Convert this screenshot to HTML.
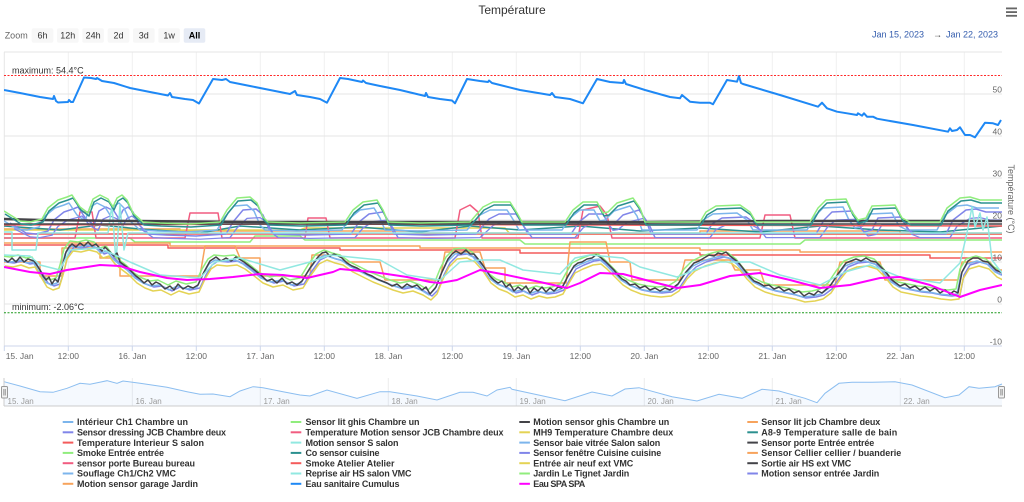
<!DOCTYPE html>
<html><head><meta charset="utf-8"><style>
html,body{margin:0;padding:0;background:#fff;}
svg{display:block;font-family:"Liberation Sans",Arial,sans-serif;}
</style></head><body>
<svg width="1024" height="502" viewBox="0 0 1024 502" xmlns="http://www.w3.org/2000/svg">
<defs>
<clipPath id="pc"><rect x="4" y="52" width="998" height="294"/></clipPath>
<path id="lb" fill="none" d="M4,259 L12,260 L20,258 L28,261 L34,260 L40,270 L46,280 L52,283 L58,281 L62,268 L66,252 L72,244 L80,245 L88,243 L96,245 L102,251 L108,249 L114,257 L120,262 L128,268 L136,276 L144,281 L152,284 L160,283 L170,288 L178,284 L188,287 L198,285 L204,272 L210,262 L216,258 L226,259 L236,258 L244,262 L252,268 L262,276 L272,280 L282,278 L292,283 L302,281 L310,268 L318,257 L326,253 L334,256 L342,258 L352,265 L362,270 L372,275 L382,279 L392,283 L402,286 L412,284 L422,288 L430,293 L436,287 L442,272 L448,260 L456,252 L466,251 L474,255 L482,264 L490,276 L498,282 L506,285 L514,290 L522,288 L530,292 L538,289 L546,291 L554,290 L562,287 L568,276 L574,266 L582,262 L592,258 L600,257 L606,262 L614,270 L622,278 L630,283 L640,287 L650,289 L660,290 L670,289 L678,284 L686,272 L694,264 L704,259 L714,256 L722,254 L730,256 L738,262 L746,272 L754,280 L764,285 L774,288 L784,290 L794,292 L804,295 L814,294 L822,292 L830,286 L838,274 L846,264 L856,260 L866,259 L876,262 L884,270 L892,280 L900,285 L910,287 L920,289 L930,290 L940,292 L950,293 L958,292 L962,272 L968,262 L978,259 L988,262 L996,270 L1002,273"/>
<path id="hb" fill="none" d="M4,211 L12,216 L20,221 L30,222 L42,219 L48,208 L58,200 L67,197 L72,195 L80,207 L88,213 L93,199 L100,195 L108,199 L113,207 L117,198 L122,195 L127,200 L133,213 L143,222 L160,223 L190,224 L220,222 L227,210 L237,198 L250,197 L257,203 L263,217 L268,222 L300,223 L345,222 L353,210 L363,202 L377,200 L383,210 L388,222 L420,223 L470,222 L483,207 L493,202 L510,202 L517,213 L522,222 L565,222 L573,210 L583,202 L597,202 L603,213 L608,212 L617,203 L633,198 L640,208 L645,222 L700,222 L706,212 L716,206 L740,205 L750,212 L756,222 L810,222 L818,208 L826,200 L846,199 L852,212 L858,220 L866,218 L872,206 L895,205 L902,218 L910,222 L940,222 L947,208 L960,198 L970,197 L980,200 L1002,200"/>
</defs>

<!-- Title -->
<text x="512" y="14" font-size="12" fill="#333" text-anchor="middle">Température</text>

<!-- Hamburger -->
<rect x="1006" y="7.5" width="11" height="1.8" fill="#666"/>
<rect x="1006" y="11.2" width="11" height="1.8" fill="#666"/>
<rect x="1006" y="14.9" width="11" height="1.8" fill="#666"/>

<!-- Range selector -->
<text x="4.7" y="38.3" font-size="9" fill="#666">Zoom</text>
<g font-size="9" text-anchor="middle">
<rect x="31.7" y="28.3" width="21.6" height="14.4" rx="2" fill="#f7f7f7"/><text x="42.5" y="38.5" fill="#333">6h</text>
<rect x="57" y="28.3" width="21.6" height="14.4" rx="2" fill="#f7f7f7"/><text x="67.8" y="38.5" fill="#333">12h</text>
<rect x="82.3" y="28.3" width="21.6" height="14.4" rx="2" fill="#f7f7f7"/><text x="93.1" y="38.5" fill="#333">24h</text>
<rect x="107.7" y="28.3" width="21.6" height="14.4" rx="2" fill="#f7f7f7"/><text x="118.5" y="38.5" fill="#333">2d</text>
<rect x="133" y="28.3" width="21.6" height="14.4" rx="2" fill="#f7f7f7"/><text x="143.8" y="38.5" fill="#333">3d</text>
<rect x="158.3" y="28.3" width="21.6" height="14.4" rx="2" fill="#f7f7f7"/><text x="169.1" y="38.5" fill="#333">1w</text>
<rect x="183.7" y="28.3" width="21.6" height="14.4" rx="2" fill="#e6ebf5"/><text x="194.5" y="38.5" fill="#000" font-weight="bold">All</text>
</g>
<text x="872" y="37.5" font-size="9" fill="#335cad">Jan 15, 2023</text>
<text x="933" y="37.5" font-size="9" fill="#444">→</text>
<text x="946" y="37.5" font-size="9" fill="#335cad">Jan 22, 2023</text>

<!-- Grid -->
<g stroke="#f0f0f0" stroke-width="1">
<line x1="68.3" y1="52" x2="68.3" y2="346"/><line x1="132.3" y1="52" x2="132.3" y2="346"/><line x1="196.3" y1="52" x2="196.3" y2="346"/><line x1="260.3" y1="52" x2="260.3" y2="346"/><line x1="324.3" y1="52" x2="324.3" y2="346"/><line x1="388.3" y1="52" x2="388.3" y2="346"/><line x1="452.3" y1="52" x2="452.3" y2="346"/><line x1="516.3" y1="52" x2="516.3" y2="346"/><line x1="580.3" y1="52" x2="580.3" y2="346"/><line x1="644.3" y1="52" x2="644.3" y2="346"/><line x1="708.3" y1="52" x2="708.3" y2="346"/><line x1="772.3" y1="52" x2="772.3" y2="346"/><line x1="836.3" y1="52" x2="836.3" y2="346"/><line x1="900.3" y1="52" x2="900.3" y2="346"/><line x1="964.3" y1="52" x2="964.3" y2="346"/>
</g>
<line x1="4.3" y1="52" x2="4.3" y2="346" stroke="#e6e6e6"/>
<g stroke="#e6e6e6" stroke-width="1">
<line x1="4" y1="52" x2="1002" y2="52"/><line x1="4" y1="94" x2="1002" y2="94"/><line x1="4" y1="136" x2="1002" y2="136"/><line x1="4" y1="178" x2="1002" y2="178"/><line x1="4" y1="220" x2="1002" y2="220"/><line x1="4" y1="262" x2="1002" y2="262"/><line x1="4" y1="304" x2="1002" y2="304"/>
</g>
<line x1="4" y1="346" x2="1002" y2="346" stroke="#ccd6eb"/>
<g stroke="#ccd6eb">
<line x1="4.3" y1="346" x2="4.3" y2="351"/><line x1="68.3" y1="346" x2="68.3" y2="351"/><line x1="132.3" y1="346" x2="132.3" y2="351"/><line x1="196.3" y1="346" x2="196.3" y2="351"/><line x1="260.3" y1="346" x2="260.3" y2="351"/><line x1="324.3" y1="346" x2="324.3" y2="351"/><line x1="388.3" y1="346" x2="388.3" y2="351"/><line x1="452.3" y1="346" x2="452.3" y2="351"/><line x1="516.3" y1="346" x2="516.3" y2="351"/><line x1="580.3" y1="346" x2="580.3" y2="351"/><line x1="644.3" y1="346" x2="644.3" y2="351"/><line x1="708.3" y1="346" x2="708.3" y2="351"/><line x1="772.3" y1="346" x2="772.3" y2="351"/><line x1="836.3" y1="346" x2="836.3" y2="351"/><line x1="900.3" y1="346" x2="900.3" y2="351"/><line x1="964.3" y1="346" x2="964.3" y2="351"/>
</g>

<!-- Series -->
<g clip-path="url(#pc)" fill="none" stroke-width="1.5" stroke-linejoin="round">
<!-- upper band -->
<path stroke="#f7a35c" d="M4,229 H180 V231 H420 V233 H700 V231 H900 V233 H1002"/>
<path stroke="#e4d354" d="M4,230 H300 L305,228 H505 L510,234 H1002"/>
<path stroke="#90ed7d" d="M4,238 H130 L135,242 H250 L255,236 H300 L305,240 H520 L525,244 H800 L805,240 H1002"/>
<path stroke="#2b908f" d="M4,226 L60,230 L100,225 L140,229 L200,233 L240,226 L300,230 L360,227 L420,232 L470,226 L520,230 L580,226 L640,231 L700,228 L760,232 L820,226 L880,230 L940,232 L1002,226"/>
<path stroke="#f45b5b" d="M4,245 H168 V248 H340 V250 H520 V253 H700 V255 H930 V258 H1002"/>
<path stroke="#f7a35c" d="M4,243 H170 V246 H420 V248 H700 V250 H800 V252 H1002"/>
<path stroke="#f45b5b" d="M4,234 H1002"/>
<path stroke="#f15c80" d="M4,238 H75 L80,212 H92 L96,238 H185 L190,213 H218 L222,238 H305 L308,218 H326 L330,238 H455 L460,210 L470,205 L478,212 L482,238 H578 L583,210 L600,206 L607,215 L612,238 H760 L765,215 H790 L795,238 H1002"/>
<use href="#hb" stroke="#8085e9" transform="translate(6,12)"/>
<use href="#hb" stroke="#7cb5ec" transform="translate(-3,8)"/>
<use href="#hb" stroke="#8085e9" transform="translate(10,60) scale(1,0.8)"/>
<path stroke="#91e8e1" d="M4,232 H12 V250 H36 L38,233 H108 L112,205 L116,262 L120,205 L124,250 L128,233 H1002"/>
<path stroke="#f45b5b" d="M4,225 L300,224 L600,225 L1002,226"/>
<path stroke="#434348" stroke-width="2.5" d="M4,219 L40,220 L132,221 L260,222 L400,222 L516,222 L644,222 L772,221 L900,221 L1002,221"/>
<path stroke="#434348" d="M4,224 H1002"/>
<use href="#hb" stroke="#2b908f" transform="translate(1,3)"/>
<use href="#hb" stroke="#90ed7d"/>
<!-- lower band -->
<path stroke="#f7a35c" d="M4,262 H40 V276 H62 V248 H100 V258 H120 V276 H200 L205,246 H235 L240,258 H260 V276 H310 L312,255 H340 L345,262 H380 L385,280 H440 L445,252 H480 L485,268 H505 V283 H566 L570,242 H606 L610,262 H630 L632,280 H680 L685,260 H730 L735,270 H760 L765,285 H835 L840,262 H880 L885,280 H958 L962,262 H990 L995,270 H1002"/>
<use href="#lb" stroke="#90ed7d" transform="translate(-2,-3)"/>
<use href="#lb" stroke="#8085e9" transform="translate(2,3)"/>
<use href="#lb" stroke="#7cb5ec" transform="translate(-1,2)"/>
<use href="#lb" stroke="#e4d354" transform="translate(1,7)"/>
<path stroke="#434348" d="M4,259 L8,262 L12,258 L16,262 L20,257 L24,262 L28,259 L34,261 L40,270 L43,276 L46,280 L49,277 L52,284 L55,279 L58,282 L62,268 L66,252 L69,247 L72,244 L76,247 L80,243 L84,246 L88,242 L92,246 L96,244 L102,251 L105,247 L108,250 L114,256 L117,253 L120,262 L128,268 L132,272 L136,276 L140,279 L144,283 L148,280 L152,285 L156,282 L160,284 L165,289 L170,286 L174,290 L178,284 L183,289 L188,286 L193,288 L198,285 L204,272 L210,261 L216,257 L221,261 L226,258 L231,261 L236,257 L244,262 L252,268 L257,272 L262,276 L267,281 L272,279 L277,283 L282,278 L287,284 L292,282 L297,285 L302,281 L310,268 L318,257 L322,253 L326,252 L330,256 L334,254 L342,258 L347,263 L352,266 L357,268 L362,271 L367,274 L372,276 L377,279 L382,281 L387,283 L392,286 L397,284 L402,288 L407,284 L412,287 L417,285 L422,290 L426,287 L430,294 L436,287 L442,272 L448,259 L452,254 L456,251 L461,254 L466,250 L470,254 L474,254 L482,264 L490,276 L494,280 L498,283 L502,281 L506,287 L510,284 L514,291 L518,287 L522,290 L526,286 L530,293 L534,288 L538,291 L542,287 L546,292 L550,288 L554,291 L558,287 L562,288 L568,276 L574,266 L578,263 L582,262 L587,259 L592,258 L596,255 L600,257 L606,262 L614,270 L618,275 L622,279 L626,281 L630,285 L635,284 L640,288 L645,286 L650,290 L655,288 L660,291 L665,288 L670,290 L678,284 L686,272 L694,263 L699,261 L704,258 L709,255 L714,256 L718,253 L722,254 L726,252 L730,256 L738,262 L746,272 L750,277 L754,281 L759,283 L764,286 L769,285 L774,289 L779,287 L784,291 L789,289 L794,293 L799,291 L804,296 L809,293 L814,295 L818,291 L822,293 L830,286 L838,274 L846,263 L851,261 L856,259 L861,261 L866,258 L871,261 L876,262 L884,270 L892,280 L896,283 L900,286 L905,284 L910,288 L915,286 L920,290 L925,287 L930,291 L935,288 L940,293 L945,290 L950,294 L954,291 L958,293 L962,272 L968,261 L973,258 L978,258 L983,261 L988,262 L996,270 L1002,273"/>
<path stroke="#91e8e1" d="M4,255 L30,256 L40,265 L60,270 L70,250 L100,248 L130,262 L160,275 L200,278 L215,262 L240,258 L280,270 L310,262 L330,255 L360,258 L380,260 L407,275 L440,280 L460,262 L480,260 L500,260 L523,270 L560,274 L575,258 L590,255 L623,258 L640,267 L677,277 L700,268 L720,262 L750,262 L780,275 L820,285 L845,272 L870,265 L900,277 L940,283 L960,263 L967,233 L972,207 L975,227 L980,213 L983,230 L987,217 L992,260 L1002,273"/>
<path stroke="#ff00ff" stroke-width="2" d="M4,267 L30,272 L50,274 L67,270 L100,265 L120,266 L140,272 L167,278 L187,280 L210,279 L233,277 L260,274 L283,275 L307,278 L333,272 L340,269 L373,272 L407,277 L430,282 L440,283 L457,280 L480,270 L507,275 L540,282 L567,288 L580,283 L600,273 L623,274 L657,283 L677,288 L700,285 L730,276 L760,273 L790,280 L820,288 L850,285 L880,278 L900,277 L930,285 L960,297 L980,290 L1002,285"/>
<!-- Cumulus -->
<path stroke="#1e88f5" stroke-width="2" d="M4,90 L20,93 L40,97 L53,99 L54,96 L56,101 L58,102.5 L68,102 L69,100 L71,102 L73,102 L84,77.5 L91,78 L96,79 L97,78 L102,81 L108,82 L114,83 L130,88 L150,92 L168,95.5 L170,93 L172,97 L185,99 L193,100 L199,103.5 L213,79 L222,80 L226,79 L230,82 L250,86 L270,90 L290,94 L295,91 L297,95 L310,97 L320,99 L327,102.7 L340,78 L348,79 L362,82 L363,80.5 L366,83 L380,86 L400,90 L425,96 L426,93 L428,97 L440,99 L452,100.5 L455,103.3 L467,79 L480,81 L488,82 L489,80.5 L492,83 L500,85 L520,90 L550,95 L552,93 L555,97 L570,99 L583,103.3 L597,79 L610,82 L623,83 L624,80 L626,84 L645,90 L670,97 L680,98.3 L682,95 L690,101.7 L700,102.7 L710,102.7 L713,104.3 L727,80 L737,81.7 L739,76 L741,83 L743,84 L780,95 L818,106.7 L822,102.7 L827,108.3 L837,111.7 L847,113.3 L857,115 L858,113.3 L862,115.7 L864,113.3 L867,116.7 L873,116.7 L877,118.7 L913,125 L948,131.7 L950,128.3 L952,131 L957,130 L960,127.3 L965,135 L970,135 L975,137.3 L985,122.7 L993,123.3 L998,125 L1001,120"/>
</g>

<!-- plot lines -->
<line x1="4" y1="75.5" x2="1002" y2="75.5" stroke="#ff2a2a" stroke-width="1" stroke-dasharray="2,1.5"/>
<text x="12" y="73.5" font-size="9" fill="#333">maximum: 54.4°C</text>
<line x1="4" y1="312.7" x2="1002" y2="312.7" stroke="#1f9a1f" stroke-width="1" stroke-dasharray="2,1.5"/>
<text x="12" y="310" font-size="9" fill="#333">minimum: -2.06°C</text>

<!-- Y axis labels -->
<g font-size="8.5" fill="#666" text-anchor="end">
<text x="1002" y="92.5">50</text><text x="1002" y="134.5">40</text><text x="1002" y="176.5">30</text><text x="1002" y="218.5">20</text><text x="1002" y="260.5">10</text><text x="1002" y="302.5">0</text><text x="1002" y="344.5">-10</text>
</g>
<text transform="translate(1008,199) rotate(90)" font-size="9" fill="#666" text-anchor="middle">Température (°C)</text>

<!-- X axis labels -->
<g font-size="8.5" fill="#666" text-anchor="middle">
<text x="5.7" y="359" text-anchor="start">15. Jan</text>
<text x="68.3" y="359">12:00</text><text x="132.3" y="359">16. Jan</text><text x="196.3" y="359">12:00</text><text x="260.3" y="359">17. Jan</text><text x="324.3" y="359">12:00</text><text x="388.3" y="359">18. Jan</text><text x="452.3" y="359">12:00</text><text x="516.3" y="359">19. Jan</text><text x="580.3" y="359">12:00</text><text x="644.3" y="359">20. Jan</text><text x="708.3" y="359">12:00</text><text x="772.3" y="359">21. Jan</text><text x="836.3" y="359">12:00</text><text x="900.3" y="359">22. Jan</text><text x="964.3" y="359">12:00</text>
</g>

<!-- Navigator -->
<g stroke="#ececec">
<line x1="132.3" y1="378" x2="132.3" y2="406"/><line x1="260.3" y1="378" x2="260.3" y2="406"/><line x1="388.3" y1="378" x2="388.3" y2="406"/><line x1="516.3" y1="378" x2="516.3" y2="406"/><line x1="644.3" y1="378" x2="644.3" y2="406"/><line x1="772.3" y1="378" x2="772.3" y2="406"/><line x1="900.3" y1="378" x2="900.3" y2="406"/>
</g>
<path fill="rgba(124,181,236,0.08)" stroke="none" d="M4,381.7 L20,386 L40,391.7 L53,392.3 L67,388.3 L80,383.3 L90,384.3 L107,380.7 L117,383.3 L123,381 L140,383.3 L167,387.3 L187,391.7 L200,394.3 L213,394 L230,396.7 L240,391 L253,386.7 L263,387.7 L283,391.7 L300,395 L310,396 L327,390 L357,398.3 L380,391.7 L390,391.7 L417,396 L437,400 L460,392.3 L473,392.3 L487,396 L497,390 L510,387.3 L512,389.3 L565,400.7 L592,392 L612,396 L625,389 L639,387.7 L672,396.7 L697,401 L719,394.3 L742,398.3 L762,389.3 L779,391 L805,398.3 L817,402.7 L825,393.3 L839,383.3 L852,382.3 L872,382.3 L895,381.7 L912,385 L945,397.7 L959,395 L969,386.7 L979,388.3 L995,386.7 L1002,384 L1002,406 L4,406 Z"/>
<path fill="none" stroke="#8cbef0" stroke-width="1" d="M4,381.7 L20,386 L40,391.7 L53,392.3 L67,388.3 L80,383.3 L90,384.3 L107,380.7 L117,383.3 L123,381 L140,383.3 L167,387.3 L187,391.7 L200,394.3 L213,394 L230,396.7 L240,391 L253,386.7 L263,387.7 L283,391.7 L300,395 L310,396 L327,390 L357,398.3 L380,391.7 L390,391.7 L417,396 L437,400 L460,392.3 L473,392.3 L487,396 L497,390 L510,387.3 L512,389.3 L565,400.7 L592,392 L612,396 L625,389 L639,387.7 L672,396.7 L697,401 L719,394.3 L742,398.3 L762,389.3 L779,391 L805,398.3 L817,402.7 L825,393.3 L839,383.3 L852,382.3 L872,382.3 L895,381.7 L912,385 L945,397.7 L959,395 L969,386.7 L979,388.3 L995,386.7 L1002,384"/>
<line x1="4" y1="406" x2="1002" y2="406" stroke="#cccccc"/>
<line x1="4" y1="378" x2="4" y2="406" stroke="#cccccc"/>
<g font-size="8" fill="#999">
<text x="7.5" y="404">15. Jan</text><text x="135.5" y="404">16. Jan</text><text x="263.5" y="404">17. Jan</text><text x="391.5" y="404">18. Jan</text><text x="519.5" y="404">19. Jan</text><text x="647.5" y="404">20. Jan</text><text x="775.5" y="404">21. Jan</text><text x="903.5" y="404">22. Jan</text>
</g>
<rect x="1.5" y="386.5" width="6" height="11.5" rx="1" fill="#f2f2f2" stroke="#999"/>
<line x1="3.8" y1="389" x2="3.8" y2="395.5" stroke="#999"/><line x1="5.3" y1="389" x2="5.3" y2="395.5" stroke="#999"/>
<rect x="998.5" y="386.5" width="6" height="11.5" rx="1" fill="#f2f2f2" stroke="#999"/>
<line x1="1000.8" y1="389" x2="1000.8" y2="395.5" stroke="#999"/><line x1="1002.3" y1="389" x2="1002.3" y2="395.5" stroke="#999"/>

<!-- Legend -->
<g stroke-width="2">
<line x1="62.7" y1="422" x2="73.3" y2="422" stroke="#7cb5ec"/>
<line x1="62.7" y1="432.3" x2="73.3" y2="432.3" stroke="#8085e9"/>
<line x1="62.7" y1="442.6" x2="73.3" y2="442.6" stroke="#f45b5b"/>
<line x1="62.7" y1="452.9" x2="73.3" y2="452.9" stroke="#90ed7d"/>
<line x1="62.7" y1="463.2" x2="73.3" y2="463.2" stroke="#f15c80"/>
<line x1="62.7" y1="473.5" x2="73.3" y2="473.5" stroke="#7cb5ec"/>
<line x1="62.7" y1="483.8" x2="73.3" y2="483.8" stroke="#f7a35c"/>
<line x1="290.7" y1="422" x2="301.3" y2="422" stroke="#90ed7d"/>
<line x1="290.7" y1="432.3" x2="301.3" y2="432.3" stroke="#f15c80"/>
<line x1="290.7" y1="442.6" x2="301.3" y2="442.6" stroke="#91e8e1"/>
<line x1="290.7" y1="452.9" x2="301.3" y2="452.9" stroke="#2b908f"/>
<line x1="290.7" y1="463.2" x2="301.3" y2="463.2" stroke="#f45b5b"/>
<line x1="290.7" y1="473.5" x2="301.3" y2="473.5" stroke="#91e8e1"/>
<line x1="290.7" y1="483.8" x2="301.3" y2="483.8" stroke="#1e88f5"/>
<line x1="519.3" y1="422" x2="529.9" y2="422" stroke="#434348"/>
<line x1="519.3" y1="432.3" x2="529.9" y2="432.3" stroke="#e4d354"/>
<line x1="519.3" y1="442.6" x2="529.9" y2="442.6" stroke="#7cb5ec"/>
<line x1="519.3" y1="452.9" x2="529.9" y2="452.9" stroke="#8085e9"/>
<line x1="519.3" y1="463.2" x2="529.9" y2="463.2" stroke="#e4d354"/>
<line x1="519.3" y1="473.5" x2="529.9" y2="473.5" stroke="#90ed7d"/>
<line x1="519.3" y1="483.8" x2="529.9" y2="483.8" stroke="#ff00ff"/>
<line x1="747.3" y1="422" x2="757.9" y2="422" stroke="#f7a35c"/>
<line x1="747.3" y1="432.3" x2="757.9" y2="432.3" stroke="#2b908f"/>
<line x1="747.3" y1="442.6" x2="757.9" y2="442.6" stroke="#434348"/>
<line x1="747.3" y1="452.9" x2="757.9" y2="452.9" stroke="#f7a35c"/>
<line x1="747.3" y1="463.2" x2="757.9" y2="463.2" stroke="#434348"/>
<line x1="747.3" y1="473.5" x2="757.9" y2="473.5" stroke="#8085e9"/>
</g>
<g font-size="9" font-weight="bold" fill="#333" lengthAdjust="spacingAndGlyphs">
<text x="77" y="425.2" textLength="111">Intérieur Ch1 Chambre un</text>
<text x="77" y="435.5" textLength="149">Sensor dressing JCB Chambre deux</text>
<text x="77" y="445.8" textLength="127">Temperature Interieur S salon</text>
<text x="77" y="456.1" textLength="87">Smoke Entrée entrée</text>
<text x="77" y="466.4" textLength="118">sensor porte Bureau bureau</text>
<text x="77" y="476.7" textLength="99">Souflage Ch1/Ch2 VMC</text>
<text x="77" y="487" textLength="121">Motion sensor garage Jardin</text>
<text x="305.5" y="425.2" textLength="114">Sensor lit ghis Chambre un</text>
<text x="305.5" y="435.5" textLength="198">Temperature Motion sensor JCB Chambre deux</text>
<text x="305.5" y="445.8" textLength="93">Motion sensor S salon</text>
<text x="305.5" y="456.1" textLength="74">Co sensor cuisine</text>
<text x="305.5" y="466.4" textLength="89">Smoke Atelier Atelier</text>
<text x="305.5" y="476.7" textLength="106">Reprise air HS salon VMC</text>
<text x="305.5" y="487" textLength="94">Eau sanitaire Cumulus</text>
<text x="533.3" y="425.2" textLength="136">Motion sensor ghis Chambre un</text>
<text x="533.3" y="435.5" textLength="140">MH9 Temperature Chambre deux</text>
<text x="533.3" y="445.8" textLength="127">Sensor baie vitrée Salon salon</text>
<text x="533.3" y="456.1" textLength="128">Sensor fenêtre Cuisine cuisine</text>
<text x="533.3" y="466.4" textLength="100">Entrée air neuf ext VMC</text>
<text x="533.3" y="476.7" textLength="96">Jardin Le Tignet Jardin</text>
<text x="533.3" y="487" textLength="52">Eau SPA SPA</text>
<text x="761.3" y="425.2" textLength="119">Sensor lit jcb Chambre deux</text>
<text x="761.3" y="435.5" textLength="136">A8-9 Temperature salle de bain</text>
<text x="761.3" y="445.8" textLength="113">Sensor porte Entrée entrée</text>
<text x="761.3" y="456.1" textLength="140">Sensor Cellier cellier / buanderie</text>
<text x="761.3" y="466.4" textLength="90">Sortie air HS ext VMC</text>
<text x="761.3" y="476.7" textLength="118">Motion sensor entrée Jardin</text>
</g>
</svg>
</body></html>
